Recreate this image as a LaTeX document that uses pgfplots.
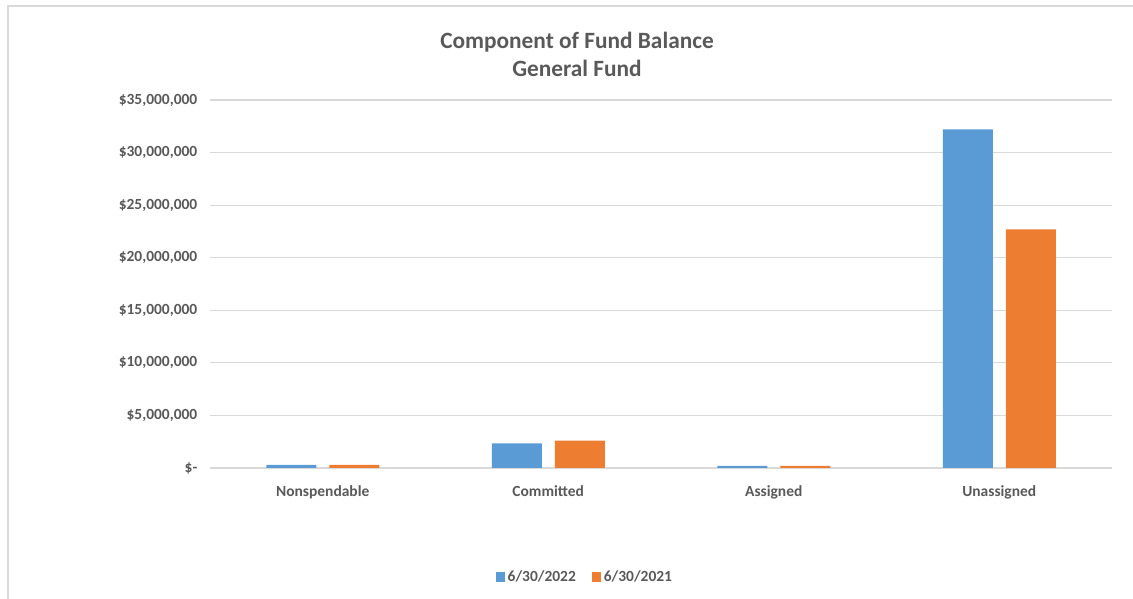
\documentclass[border=0pt]{standalone}
\usepackage{fontspec}
\setmainfont{Carlito}
\usepackage{pgfplots}
\pgfplotsset{compat=1.18}
\definecolor{blueA}{HTML}{5B9BD5}
\definecolor{orangeA}{HTML}{ED7D31}
\definecolor{txt}{HTML}{595959}
\definecolor{gridc}{HTML}{D9D9D9}
\begin{document}
\begin{tikzpicture}[x=0.75pt,y=0.75pt]
% page frame (1133 x 599 px)
\path[use as bounding box] (0,0) rectangle (1133,599);
\draw[gridc, line width=1.5pt] (8,0) -- (8,593) -- (1133,593);
\node[text=txt, font=\bfseries\fontsize{17.5}{21}\selectfont, align=center] at (577,545)
  {Component of Fund Balance\\General Fund};
\begin{axis}[
    at={(157.5pt,98.25pt)}, anchor=south west,
    scale only axis,
    width=676.5pt, height=276pt,
    ybar=9.75pt, bar width=37.5pt,
    xmin=-0.5, xmax=3.5,
    ymin=0, ymax=35000000,
    xtick={0,1,2,3},
    xticklabels={Nonspendable,Committed,Assigned,Unassigned},
    ytick={0,5000000,10000000,15000000,20000000,25000000,30000000,35000000},
    yticklabels={{\$-},{\$5,000,000},{\$10,000,000},{\$15,000,000},{\$20,000,000},{\$25,000,000},{\$30,000,000},{\$35,000,000}},
    ymajorgrids=true,
    grid style={gridc, line width=0.9pt},
    axis y line*=left, y axis line style={draw=none},
    axis x line*=bottom, x axis line style={gridc, line width=1pt},
    major tick length=0pt,
    tick label style={text=txt, font=\bfseries\fontsize{11.6}{14}\selectfont},
    yticklabel style={xshift=-6pt},
    xticklabel style={yshift=-10pt},
    scaled y ticks=false,
    legend style={at={(0.416,-0.296)}, anchor=center, draw=none, fill=none,
      legend columns=2, font=\bfseries\fontsize{11.6}{14}\selectfont, text=txt,
      /tikz/every even column/.append style={column sep=10pt}},
    legend image code/.code={\fill[#1] (0pt,-3.5pt) rectangle (7pt,3.5pt);},
]
\addplot[fill=blueA, draw=none] coordinates {(0,300000) (1,2350000) (2,200000) (3,32200000)};
\addplot[fill=orangeA, draw=none] coordinates {(0,300000) (1,2600000) (2,200000) (3,22700000)};
\legend{6/30/2022,6/30/2021}
\end{axis}
\end{tikzpicture}
\end{document}
